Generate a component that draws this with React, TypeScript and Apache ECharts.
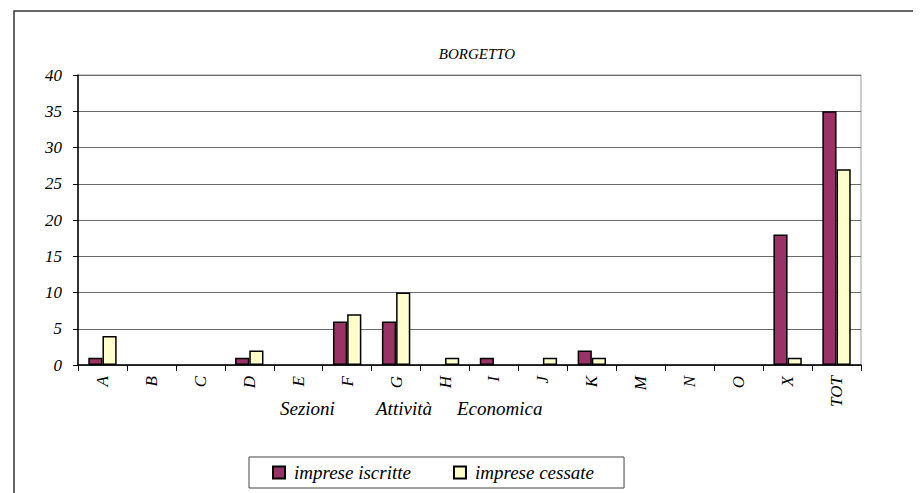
import React, { useEffect, useRef } from "react";
import * as echarts from "echarts";

const categories = ["A", "B", "C", "D", "E", "F", "G", "H", "I", "J", "K", "M", "N", "O", "X", "TOT"];
const iscritte = [1, 0, 0, 1, 0, 6, 6, 0, 1, 0, 2, 0, 0, 0, 18, 35];
const cessate = [4, 0, 0, 2, 0, 7, 10, 1, 0, 1, 1, 0, 0, 0, 1, 27];
const yTicks = { min: 0, max: 40, interval: 5 };
const axisTitleWords = ["Sezioni", "Attività", "Economica"];

const FONT = "Liberation Serif";

export default function App() {
  const ref = useRef<HTMLDivElement>(null);
  useEffect(() => {
    const chart = echarts.init(ref.current!, null, { renderer: "svg" });
    const hideZero = (arr: number[]) => arr.map((v) => (v === 0 ? null : v));
    const wordLeft = [272, 368, 449];
    chart.setOption({
      animation: false,
      backgroundColor: "#fff",
      title: {
        text: "BORGETTO",
        left: 464,
        top: 33,
        textAlign: "center",
        textStyle: { fontFamily: FONT, fontStyle: "italic", fontWeight: "normal", fontSize: 15, color: "#000" },
      },
      grid: { left: 70, top: 67, right: 60, bottom: 128, show: true, borderColor: "#9a9a9a", borderWidth: 1 },
      legend: {
        left: 241,
        top: 449,
        padding: [6, 30, 6, 23],
        itemGap: 42,
        itemWidth: 12,
        itemHeight: 12,
        icon: "rect",
        borderColor: "#444",
        borderWidth: 1,
        borderRadius: 0,
        textStyle: { fontFamily: FONT, fontStyle: "italic", fontSize: 19, color: "#000", padding: [0, 0, 0, 4] },
        data: ["imprese iscritte", "imprese cessate"],
      },
      xAxis: {
        type: "category",
        data: categories,
        axisLine: { lineStyle: { color: "#000", width: 1.5 } },
        axisTick: { show: true, length: 6, lineStyle: { color: "#000" } },
        axisLabel: {
          rotate: 90,
          interval: 0,
          margin: 11,
          fontFamily: FONT,
          fontStyle: "italic",
          fontSize: 17,
          color: "#000",
        },
      },
      yAxis: {
        type: "value",
        min: yTicks.min,
        max: yTicks.max,
        interval: yTicks.interval,
        axisLine: { show: true, lineStyle: { color: "#000", width: 1.5 } },
        axisTick: { show: true, length: 5, lineStyle: { color: "#000" } },
        axisLabel: { fontFamily: FONT, fontStyle: "italic", fontSize: 17, color: "#000", margin: 16 },
        splitLine: { lineStyle: { color: "#6a6a6a", width: 1 } },
      },
      series: [
        {
          name: "imprese iscritte",
          type: "bar",
          data: hideZero(iscritte),
          barGap: "0%",
          barCategoryGap: "42%",
          itemStyle: { color: "#993366", borderColor: "#000", borderWidth: 1.5 },
        },
        {
          name: "imprese cessate",
          type: "bar",
          data: hideZero(cessate),
          barGap: "0%",
          barCategoryGap: "42%",
          itemStyle: { color: "#FFFFCC", borderColor: "#000", borderWidth: 1.5 },
        },
      ],
      graphic: [
        { type: "rect", shape: { x: 6, y: 3, width: 1000, height: 600 }, style: { fill: "none", stroke: "#333", lineWidth: 1.5 }, silent: true },
        ...axisTitleWords.map((w, i) => ({
          type: "text",
          left: wordLeft[i],
          top: 391,
          style: { text: w, fontFamily: FONT, fontStyle: "italic", fontSize: 19, fill: "#000" },
        })),
      ],
    });
    return () => chart.dispose();
  }, []);
  return <div ref={ref} style={{ width: 913, height: 485 }} />;
}
